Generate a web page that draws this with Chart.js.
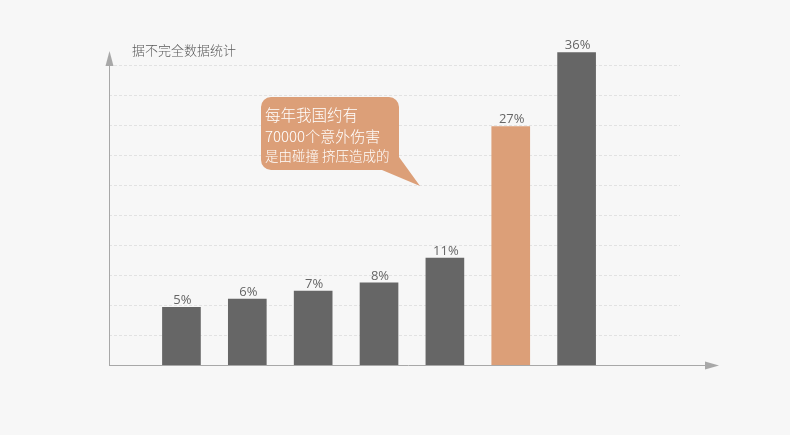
<!DOCTYPE html>
<html>
<head>
<meta charset="utf-8">
<script src="https://cdn.jsdelivr.net/npm/chart.js@4"></script>
<style>
    html, body { margin: 0; padding: 0; background: #f7f7f7; }
    #chart-container { width: 790px; height: 435px; position: relative; }
</style>
</head>
<body>
<div id="chart-container"><canvas id="bar-canvas"></canvas></div>
<script>
// values (percent)
const barValues = [5, 6, 7, 8, 11, 27, 36];
const barPositions = [0, 1, 2, 3, 4, 5, 6];
const highlightIndex = 5;

const titleText = "据不完全数据统计";
const calloutLines = ["每年我国约有", "70000个意外伤害", "是由碰撞 挤压造成的"];

const GRAY = "#666666";
const ORANGE = "#dc9f78";
const LABEL_FONT = '"Open Sans", "Noto Sans CJK SC", sans-serif';
const CJK_FONT = '"Noto Sans CJK SC", "Open Sans", sans-serif';
const Y_MIN = -2;

// dashed grid, axis arrows, value labels, callout
const decorations = {
    id: "decorations",
    beforeDatasetsDraw(chart) {
        let ctx = chart.ctx;
        let area = chart.chartArea;
        let grid = chart.scales.grid;

        ctx.save();
        ctx.strokeStyle = "#e2e2e2";
        ctx.lineWidth = 1;
        ctx.setLineDash([3, 2]);
        for (let v = 1; v <= 10; v++) {
            let y = Math.round(grid.getPixelForValue(v)) + 0.5;
            ctx.beginPath();
            ctx.moveTo(area.left, y);
            ctx.lineTo(area.right, y);
            ctx.stroke();
        }
        ctx.restore();
    },
    afterDatasetsDraw(chart) {
        let ctx = chart.ctx;
        let area = chart.chartArea;
        let meta = chart.getDatasetMeta(0);

        // axes
        ctx.save();
        ctx.strokeStyle = "#a8a8a8";
        ctx.fillStyle = "#a8a8a8";
        ctx.lineWidth = 1;
        ctx.beginPath();
        ctx.moveTo(area.left + 0.5, area.bottom);
        ctx.lineTo(area.left + 0.5, area.top + 12);
        ctx.moveTo(area.left, area.bottom + 0.5);
        ctx.lineTo(area.right + 28, area.bottom + 0.5);
        ctx.stroke();

        ctx.beginPath();
        ctx.moveTo(area.left + 0.5, area.top + 1);
        ctx.lineTo(area.left - 3.5, area.top + 16);
        ctx.lineTo(area.left + 4.5, area.top + 16);
        ctx.closePath();
        ctx.fill();

        ctx.beginPath();
        ctx.moveTo(area.right + 39, area.bottom + 0.5);
        ctx.lineTo(area.right + 25, area.bottom - 3.5);
        ctx.lineTo(area.right + 25, area.bottom + 4.5);
        ctx.closePath();
        ctx.fill();
        ctx.restore();

        // title
        ctx.save();
        ctx.fillStyle = "#5a5a5a";
        ctx.font = "300 13px " + CJK_FONT;
        ctx.textBaseline = "middle";
        ctx.fillText(titleText, area.left + 23, area.top);
        ctx.restore();

        // value labels
        ctx.save();
        ctx.fillStyle = "#666666";
        ctx.font = "13px " + LABEL_FONT;
        ctx.textAlign = "center";
        ctx.textBaseline = "alphabetic";
        for (let i = 0; i < meta.data.length; i++) {
            let bar = meta.data[i];
            ctx.fillText(barValues[i] + "%", bar.x + 1, bar.y - 3);
        }
        ctx.restore();

        // callout bubble
        let bx = 261, by = 97, bw = 138, bh = 73, r = 10;
        ctx.save();
        ctx.fillStyle = ORANGE;
        ctx.beginPath();
        ctx.moveTo(bx + r, by);
        ctx.lineTo(bx + bw - r, by);
        ctx.arcTo(bx + bw, by, bx + bw, by + r, r);
        ctx.lineTo(bx + bw, by + 60);
        ctx.lineTo(420, 186);
        ctx.lineTo(bx + 121, by + bh);
        ctx.lineTo(bx + r, by + bh);
        ctx.arcTo(bx, by + bh, bx, by + bh - r, r);
        ctx.lineTo(bx, by + r);
        ctx.arcTo(bx, by, bx + r, by, r);
        ctx.closePath();
        ctx.fill();

        ctx.fillStyle = "#ffffff";
        ctx.textBaseline = "middle";
        ctx.font = "300 15.5px " + CJK_FONT;
        ctx.fillText(calloutLines[0], bx + 4, by + 18);
        ctx.font = "300 15px " + CJK_FONT;
        ctx.fillText(calloutLines[1], bx + 4, by + 39);
        ctx.font = "300 13.5px " + CJK_FONT;
        ctx.fillText(calloutLines[2], bx + 4, by + 59);
        ctx.restore();
    }
};

let barCanvas = document.getElementById("bar-canvas");

let barConfig = {
    type: "bar",
    data: {
        datasets: [
            {
                data: barValues.map((v, i) => ({ x: barPositions[i], y: v })),
                backgroundColor: barValues.map((v, i) => i == highlightIndex ? ORANGE : GRAY),
                barThickness: 38,
                borderWidth: 0,
                base: Y_MIN
            }
        ]
    },
    options: {
        responsive: true,
        maintainAspectRatio: false,
        animation: false,
        layout: {
            padding: { left: 109, top: 50, right: 110, bottom: 70 }
        },
        scales: {
            x: { type: "linear", min: -1.1, max: 7.57, offset: false, display: false },
            y: { min: Y_MIN, max: 36.3, display: false },
            grid: { type: "linear", position: "left", min: 0, max: 10.5, display: false }
        },
        plugins: {
            legend: { display: false },
            tooltip: { enabled: false }
        }
    },
    plugins: [decorations]
};

let barGraph = new Chart(barCanvas, barConfig);
</script>
</body>
</html>
